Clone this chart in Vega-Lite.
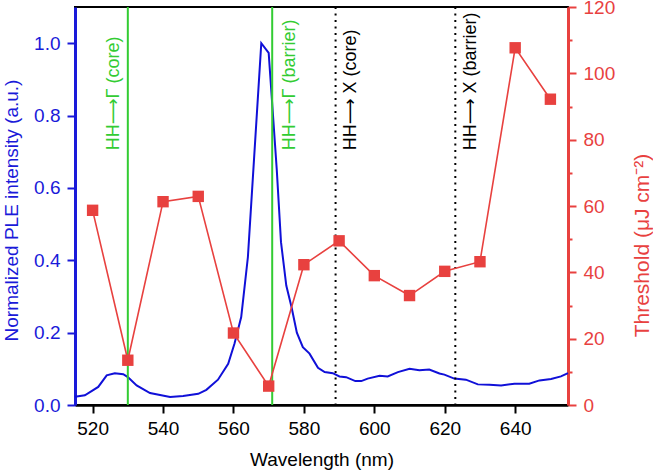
{
  "$schema": "https://vega.github.io/schema/vega-lite/v6.json",
  "width": 493,
  "height": 398,
  "autosize": "none",
  "padding": {"left": 75, "top": 7, "right": 85, "bottom": 66},
  "config": {
    "font": "Liberation Sans",
    "view": {"stroke": "black", "strokeWidth": 2},
    "axis": {"grid": false, "labelFontSize": 19, "titleFontSize": 19, "titleFontWeight": "normal", "labelOverlap": false, "labelFlush": false, "tickWidth": 2}
  },
  "resolve": {"scale": {"y": "independent"}},
  "layer": [
    {
      "layer": [
        {
          "data": {"values": [
            {"wl": 515, "ple": 0.023}, {"wl": 517.8, "ple": 0.027}, {"wl": 521.6, "ple": 0.05}, {"wl": 524, "ple": 0.082},
            {"wl": 526.3, "ple": 0.088}, {"wl": 528.7, "ple": 0.085}, {"wl": 530, "ple": 0.077}, {"wl": 532.5, "ple": 0.054},
            {"wl": 536.3, "ple": 0.033}, {"wl": 542, "ple": 0.022}, {"wl": 545.7, "ple": 0.025}, {"wl": 550, "ple": 0.031},
            {"wl": 552.3, "ple": 0.042}, {"wl": 555.6, "ple": 0.07}, {"wl": 558.5, "ple": 0.114}, {"wl": 560.3, "ple": 0.17},
            {"wl": 562.2, "ple": 0.243}, {"wl": 564.1, "ple": 0.409}, {"wl": 567.9, "ple": 1.0}, {"wl": 570, "ple": 0.973},
            {"wl": 572.3, "ple": 0.65}, {"wl": 573.5, "ple": 0.45}, {"wl": 575, "ple": 0.33}, {"wl": 576.5, "ple": 0.27},
            {"wl": 578, "ple": 0.2}, {"wl": 579.7, "ple": 0.16}, {"wl": 581.6, "ple": 0.142}, {"wl": 584, "ple": 0.103},
            {"wl": 585.9, "ple": 0.091}, {"wl": 588.2, "ple": 0.088}, {"wl": 590.1, "ple": 0.079}, {"wl": 592, "ple": 0.077},
            {"wl": 594.6, "ple": 0.066}, {"wl": 596.3, "ple": 0.066}, {"wl": 598.1, "ple": 0.073}, {"wl": 601.5, "ple": 0.081},
            {"wl": 603.8, "ple": 0.079}, {"wl": 606.7, "ple": 0.091}, {"wl": 610, "ple": 0.1}, {"wl": 612.8, "ple": 0.096},
            {"wl": 615.6, "ple": 0.098}, {"wl": 618.5, "ple": 0.087}, {"wl": 619.9, "ple": 0.084}, {"wl": 622.7, "ple": 0.073},
            {"wl": 626, "ple": 0.07}, {"wl": 629.4, "ple": 0.057}, {"wl": 632.7, "ple": 0.056}, {"wl": 636, "ple": 0.054},
            {"wl": 639.8, "ple": 0.059}, {"wl": 644, "ple": 0.059}, {"wl": 646.9, "ple": 0.068}, {"wl": 650.2, "ple": 0.072},
            {"wl": 653, "ple": 0.079}, {"wl": 655, "ple": 0.088}
          ]},
          "mark": {"type": "line", "color": "#1010d8", "strokeWidth": 2},
          "encoding": {
            "x": {"field": "wl", "type": "quantitative", "scale": {"domain": [515, 655], "nice": false, "zero": false},
              "axis": {"title": "Wavelength (nm)", "values": [520, 530, 540, 550, 560, 570, 580, 590, 600, 610, 620, 630, 640, 650],
                "labelExpr": "datum.value % 20 == 0 ? datum.label : ''",
                "tickSize": {"condition": {"test": "datum.value % 20 == 0", "value": 8}, "value": 4},
                "domainColor": "black", "domainWidth": 2.5, "tickColor": "black", "labelColor": "black", "titleColor": "black",
                "labelPadding": 6, "titleY": 60, "titleBaseline": "alphabetic"}},
            "y": {"field": "ple", "type": "quantitative", "scale": {"domain": [0, 1.1], "nice": false},
              "axis": {"title": "Normalized PLE intensity (a.u.)", "orient": "left",
                "values": [0, 0.1, 0.2, 0.3, 0.4, 0.5, 0.6, 0.7, 0.8, 0.9, 1.0],
                "labelExpr": "round(datum.value*10) % 2 == 0 ? format(datum.value, '.1f') : ''",
                "tickSize": {"condition": {"test": "round(datum.value*10) % 2 == 0", "value": 8}, "value": 4},
                "domainColor": "#1a1ad9", "domainWidth": 3, "tickColor": "#1a1ad9", "labelColor": "#1a1ad9", "titleColor": "#1a1ad9",
                "labelPadding": 7, "titleX": -58, "titleY": 203, "titleAngle": 270, "titleAlign": "center", "titleBaseline": "alphabetic"}}
          }
        },
        {
          "data": {"values": [{"wl": 530}, {"wl": 571}]},
          "mark": {"type": "rule", "color": "#33cc33", "strokeWidth": 2},
          "encoding": {"x": {"field": "wl", "type": "quantitative"}}
        },
        {
          "data": {"values": [{"wl": 589}, {"wl": 623}]},
          "mark": {"type": "rule", "color": "black", "strokeWidth": 2, "strokeDash": [2, 4.5]},
          "encoding": {"x": {"field": "wl", "type": "quantitative"}}
        },
        {
          "data": {"values": [
            {"wl": 527.5, "pos": 0.704, "t": "HH⟶Γ (core)"},
            {"wl": 577.4, "pos": 0.704, "t": "HH⟶Γ (barrier)"}
          ]},
          "mark": {"type": "text", "color": "#33cc33", "angle": 270, "align": "left", "baseline": "alphabetic", "fontSize": 18, "font": "Liberation Sans, DejaVu Sans"},
          "encoding": {"x": {"field": "wl", "type": "quantitative"}, "y": {"field": "pos", "type": "quantitative"}, "text": {"field": "t"}}
        },
        {
          "data": {"values": [
            {"wl": 594.7, "pos": 0.704, "t": "HH⟶ X (core)"},
            {"wl": 628.9, "pos": 0.704, "t": "HH⟶ X (barrier)"}
          ]},
          "mark": {"type": "text", "color": "black", "angle": 270, "align": "left", "baseline": "alphabetic", "fontSize": 18, "font": "Liberation Sans, DejaVu Sans"},
          "encoding": {"x": {"field": "wl", "type": "quantitative"}, "y": {"field": "pos", "type": "quantitative"}, "text": {"field": "t"}}
        }
      ]
    },
    {
      "data": {"values": [
        {"wl": 520, "th": 58.7}, {"wl": 530, "th": 13.5}, {"wl": 540, "th": 61.3}, {"wl": 550, "th": 62.9},
        {"wl": 560, "th": 21.7}, {"wl": 570, "th": 5.7}, {"wl": 580, "th": 42.3}, {"wl": 590, "th": 49.5},
        {"wl": 600, "th": 39}, {"wl": 610, "th": 33}, {"wl": 620, "th": 40.3}, {"wl": 630, "th": 43.2},
        {"wl": 640, "th": 107.7}, {"wl": 650, "th": 92.2}
      ]},
      "encoding": {
        "x": {"field": "wl", "type": "quantitative"},
        "y": {"field": "th", "type": "quantitative", "scale": {"domain": [0, 120], "nice": false},
          "axis": {"title": "Threshold (μJ cm⁻²)", "orient": "right",
            "values": [0, 10, 20, 30, 40, 50, 60, 70, 80, 90, 100, 110, 120],
            "labelExpr": "datum.value % 20 == 0 ? datum.label : ''",
            "tickSize": {"condition": {"test": "datum.value % 20 == 0", "value": 8}, "value": 4},
            "domainColor": "#e8413f", "domainWidth": 3, "tickColor": "#e8413f", "labelColor": "#e8413f", "titleColor": "#e8413f",
            "labelPadding": 7, "titleFontSize": 21, "titleX": 80, "titleY": 238, "titleAngle": 270, "titleAlign": "center", "titleBaseline": "alphabetic"}}
      },
      "layer": [
        {"mark": {"type": "line", "color": "#e8413f", "strokeWidth": 1.6}},
        {"mark": {"type": "point", "shape": "square", "filled": true, "opacity": 1, "color": "#e8413f", "size": 130}}
      ]
    }
  ]
}
